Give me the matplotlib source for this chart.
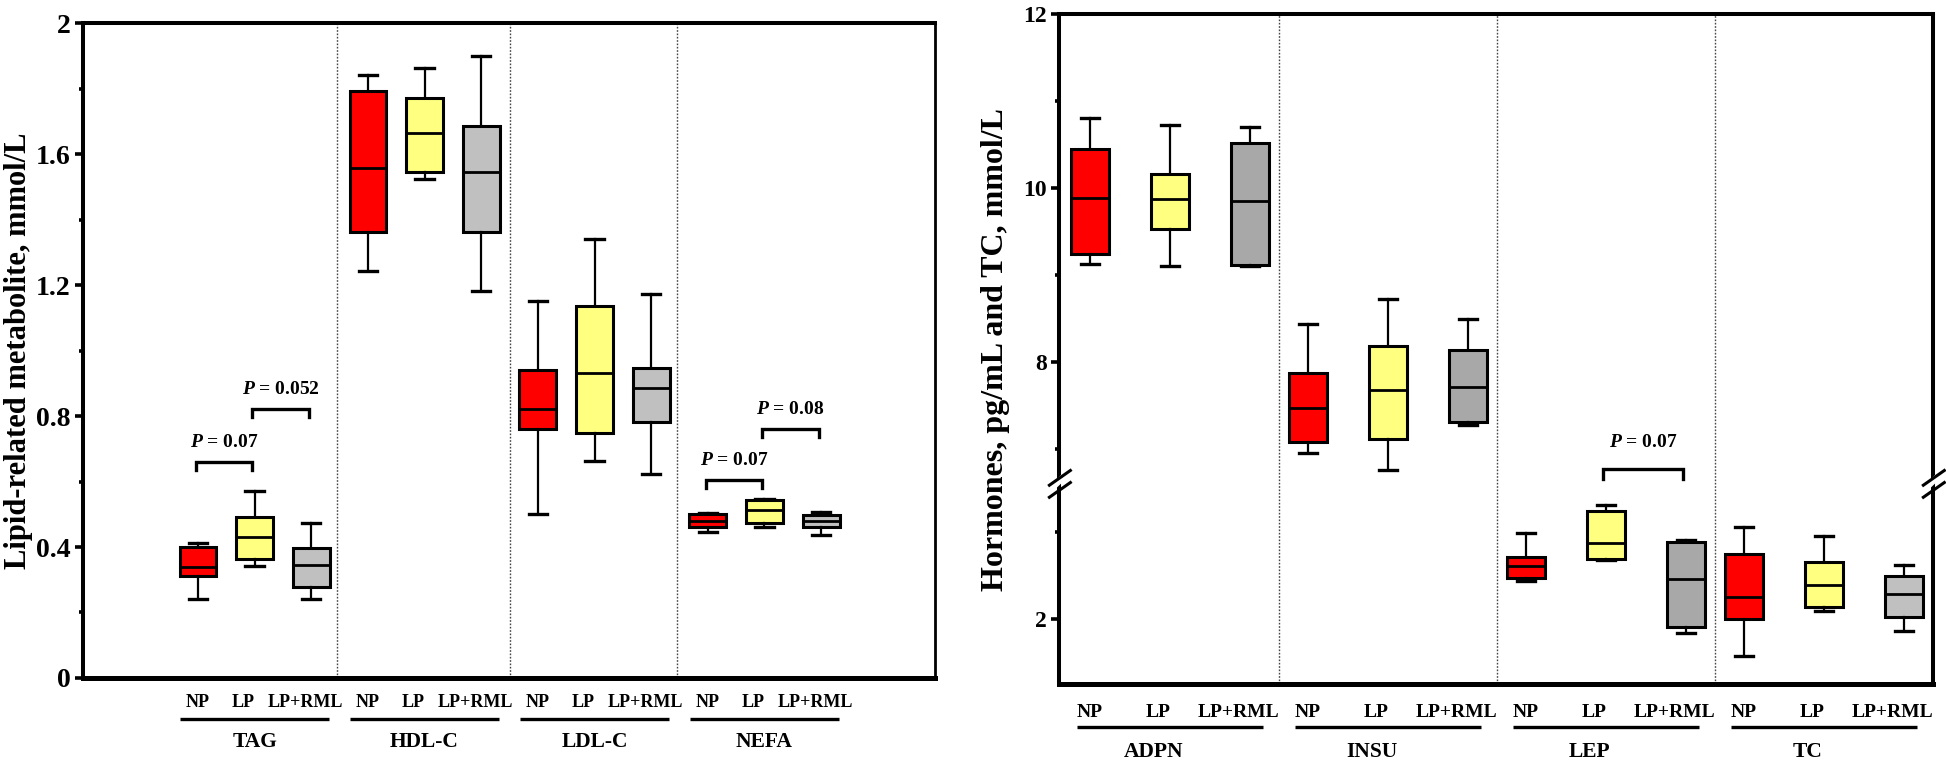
import numpy as np
import matplotlib
matplotlib.use('Agg')
import matplotlib.pyplot as plt
from matplotlib.transforms import blended_transform_factory

plt.rcParams['font.family'] = 'Liberation Serif'
plt.rcParams['mathtext.fontset'] = 'custom'
plt.rcParams['mathtext.it'] = 'Liberation Serif:italic:bold'
plt.rcParams['mathtext.rm'] = 'Liberation Serif:bold'

treatments = ['NP', 'LP', 'LP+RML']

# left panel: lipid-related metabolites, mmol/L
groups_left = ['TAG', 'HDL-C', 'LDL-C', 'NEFA']
left_whishi = [0.411, 0.572, 0.472, 1.842, 1.862, 1.900, 1.152, 1.341, 1.172, 0.505, 0.548, 0.507]
left_q3 = [0.401, 0.491, 0.397, 1.793, 1.772, 1.686, 0.940, 1.137, 0.948, 0.501, 0.544, 0.498]
left_med = [0.338, 0.431, 0.344, 1.556, 1.663, 1.544, 0.821, 0.930, 0.885, 0.478, 0.512, 0.478]
left_q1 = [0.311, 0.363, 0.277, 1.362, 1.546, 1.362, 0.761, 0.749, 0.783, 0.460, 0.474, 0.460]
left_whislo = [0.241, 0.343, 0.241, 1.243, 1.523, 1.182, 0.501, 0.663, 0.623, 0.447, 0.462, 0.437]
left_yticks = [0, 0.4, 0.8, 1.2, 1.6, 2]
left_ylabels = ['0', '0.4', '0.8', '1.2', '1.6', '2']
# (group, box a, box b, text)
left_pvals = [(0, 0, 1, 'P = 0.07'), (0, 1, 2, 'P = 0.052'),
              (3, 0, 1, 'P = 0.07'), (3, 1, 2, 'P = 0.08')]
left_pheights = [0.659, 0.822, 0.605, 0.761]

# right panel: hormones and TC
groups_right = ['ADPN', 'INSU', 'LEP', 'TC']
right_whishi = [10.80, 10.72, 10.70, 8.44, 8.73, 8.50, 2.99, 3.31, 2.91, 3.05, 2.95, 2.62]
right_q3 = [10.45, 10.16, 10.52, 7.87, 8.19, 8.14, 2.71, 3.24, 2.88, 2.74, 2.65, 2.49]
right_med = [9.88, 9.87, 9.85, 7.47, 7.68, 7.71, 2.61, 2.87, 2.46, 2.25, 2.39, 2.29]
right_q1 = [9.24, 9.53, 9.11, 7.08, 7.12, 7.31, 2.47, 2.69, 1.90, 2.00, 2.14, 2.02]
right_whislo = [9.13, 9.10, 9.10, 6.95, 6.76, 7.28, 2.43, 2.67, 1.84, 1.57, 2.09, 1.86]
right_yticks = [2, 8, 10, 12]
right_ylabels = ['2', '8', '10', '12']
right_yminor = [3, 7, 9, 11]
right_pvals = [(2, 1, 2, 'P = 0.07')]
right_pheights = [6.77]

left_colors = ['#FF0000', '#FFFF80', '#C0C0C0'] * 4
right_colors = ['#FF0000', '#FFFF80', '#A8A8A8'] * 3 + ['#FF0000', '#FFFF80', '#C0C0C0']

B0, B1 = 3.55, 6.6  # axis break on the right panel


def make_stats(lo, q1, med, q3, hi):
    return [dict(whislo=a, q1=b, med=c, q3=d, whishi=e)
            for a, b, c, d, e in zip(lo, q1, med, q3, hi)]


def draw_boxes(ax, pos, stats, colors, width):
    bp = ax.bxp(stats, positions=pos, widths=width, patch_artist=True,
                showfliers=False, manage_ticks=False,
                boxprops=dict(linewidth=2.2, edgecolor='black', zorder=3),
                whiskerprops=dict(linewidth=1.6, color='black', zorder=3),
                capprops=dict(linewidth=2.4, color='black', zorder=3),
                medianprops=dict(linewidth=2.0, color='black', zorder=4))
    for patch, c in zip(bp['boxes'], colors):
        patch.set_facecolor(c)


def style_axes(ax, bottom_w=3.6, right_w=2.0):
    ax.spines['left'].set_linewidth(2.9)
    ax.spines['top'].set_linewidth(2.9)
    ax.spines['bottom'].set_linewidth(bottom_w)
    ax.spines['right'].set_linewidth(right_w)
    ax.tick_params(axis='x', bottom=False, labelbottom=False)
    ax.tick_params(axis='y', which='major', direction='out', length=6, width=2.6, pad=3)
    ax.tick_params(axis='y', which='minor', direction='out', length=3, width=2.6)


def group_labels(ax, pos, groups, y_lab, y_line, y_grp, ext, lab_off, grp_off, size):
    tr = blended_transform_factory(ax.transData, ax.transAxes)
    for g, name in enumerate(groups):
        p = pos[3 * g:3 * g + 3]
        for x, t, o in zip(p, treatments, lab_off):
            ax.text(x + o, y_lab, t, transform=tr, ha='center', va='center',
                    fontsize=size, fontweight='bold')
        ax.plot([p[0] - ext, p[2] + ext], [y_line, y_line], transform=tr,
                color='black', lw=2.4, clip_on=False, solid_capstyle='butt')
        ax.text(np.mean(p) + grp_off, y_grp, name, transform=tr, ha='center',
                va='center', fontsize=15.5, fontweight='bold')


def brackets(ax, pos, pvals, heights, leg, dtext):
    for (g, a, b, txt), h in zip(pvals, heights):
        x0, x1 = pos[3 * g + a] - 0.04, pos[3 * g + b] - 0.04
        ax.plot([x0, x0, x1, x1], [h - leg, h, h, h - leg], color='black',
                lw=2.4, solid_joinstyle='miter', zorder=4)
        ax.text((x0 + x1) / 2, h + dtext, '$P$' + txt[1:], ha='center',
                va='center', fontsize=14, fontweight='bold')


fig = plt.figure(figsize=(19.46, 7.64), dpi=100)

# ---------------- left panel
ax1 = fig.add_axes([0.04265, 0.11257, 0.4378, 0.8573])
pos1 = np.arange(12, dtype=float)
draw_boxes(ax1, pos1, make_stats(left_whislo, left_q1, left_med, left_q3, left_whishi),
           left_colors, 0.65)
for s in [2.45, 5.5, 8.45]:
    ax1.axvline(s, color='#444444', lw=1.0, ls=(0, (1.2, 1.2)), zorder=1)
ax1.set_xlim(-2.03, 13.01)
ax1.set_ylim(0, 2)
ax1.set_yticks(left_yticks, left_ylabels, fontsize=20, fontweight='bold')
ax1.set_yticks(np.arange(0.2, 2.0, 0.4), minor=True)
style_axes(ax1)
ax1.set_ylabel('Lipid-related metabolite, mmol/L', fontsize=22, fontweight='bold')
ax1.yaxis.set_label_coords(-0.059, 0.5)
group_labels(ax1, pos1, groups_left, -0.038, -0.0626, -0.0977, 0.32,
             [0.0, -0.2, -0.1], 0.0, 13)
brackets(ax1, pos1, left_pvals, left_pheights, 0.025, 0.06)

# ---------------- right panel (broken y axis)
gap = B1 - B0


def fwd(v):
    v = np.asarray(v, dtype=float)
    return np.where(v > B1, v - gap, np.minimum(v, B0))


def inv(u):
    u = np.asarray(u, dtype=float)
    return np.where(u > B0, u + gap, u)


ax2 = fig.add_axes([0.5442, 0.10471, 0.4491, 0.87696])
ax2.set_yscale('function', functions=(fwd, inv))
pos2 = np.array([g * 2.725 + i - 1 for g in range(4) for i in range(3)])
draw_boxes(ax2, pos2, make_stats(right_whislo, right_q1, right_med, right_q3, right_whishi),
           right_colors, 0.47)
for g in range(3):
    ax2.axvline(g * 2.725 + 1.3625, color='#444444', lw=1.0, ls=(0, (1.2, 1.2)), zorder=1)
ax2.set_xlim(-1.3875, 9.5375)
ax2.set_ylim(1.25, 12)
ax2.set_yticks(right_yticks, right_ylabels, fontsize=17, fontweight='bold')
ax2.set_yticks(right_yminor, minor=True)
style_axes(ax2, bottom_w=3.6, right_w=2.9)
ax2.set_ylabel('Hormones, pg/mL and TC, mmol/L', fontsize=23, fontweight='bold')
ax2.yaxis.set_label_coords(-0.056, 0.5)
group_labels(ax2, pos2, groups_right, -0.0418, -0.064, -0.1015, 0.16,
             [0.0, -0.15, -0.15], -0.2, 14)
brackets(ax2, pos2, right_pvals, right_pheights, 0.11, 0.31)

# break marks on both spines
yb = ax2.transAxes.inverted().transform(ax2.transData.transform((0, B0)))[1]
for xs in [0.0, 1.0]:
    ax2.fill([xs - 0.004, xs + 0.004, xs + 0.004, xs - 0.004],
             [yb - 0.006, yb + 0.004, yb + 0.014, yb + 0.004],
             transform=ax2.transAxes, color='white', clip_on=False, zorder=5)
    for off in [-0.009, 0.009]:
        ax2.plot([xs - 0.011, xs + 0.013], [yb + off - 0.011, yb + off + 0.011],
                 transform=ax2.transAxes, color='black', lw=2.2, clip_on=False, zorder=6)

fig.savefig('out.png', dpi=100)
